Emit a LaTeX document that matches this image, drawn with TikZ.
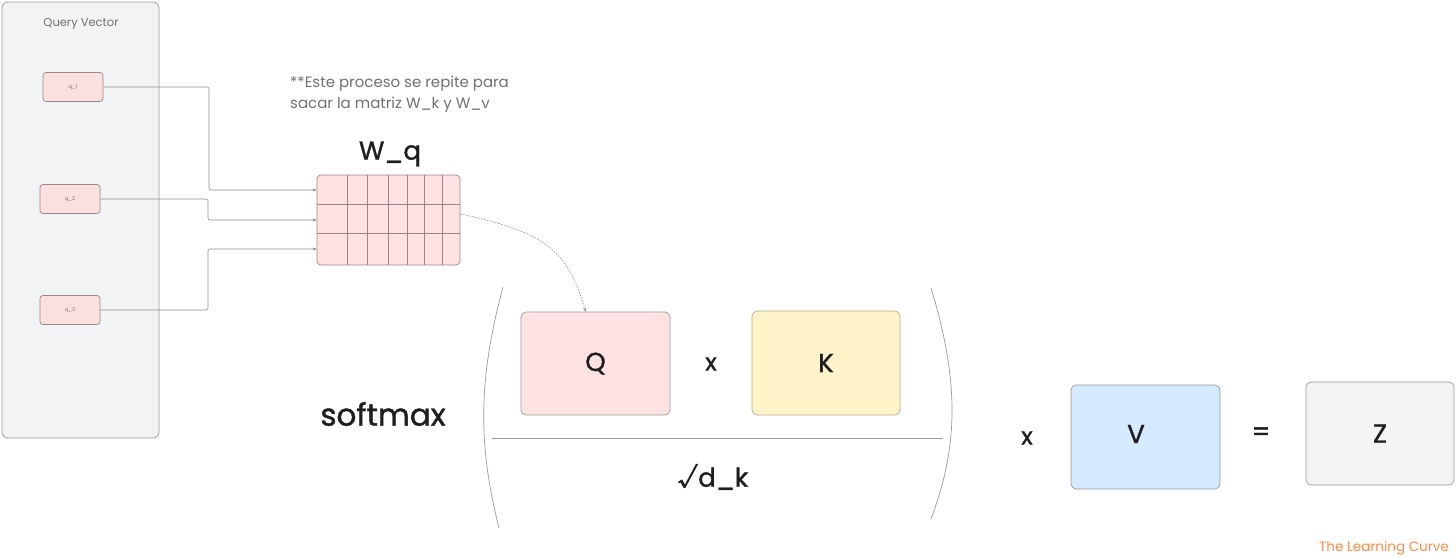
\documentclass[tikz,border=0pt]{standalone}
\usepackage{fontspec}
\setmainfont{Poppins}
\newfontfamily\handfont[FakeBold=1.2]{Poppins}
\usetikzlibrary{arrows.meta,calc}
\definecolor{ink}{HTML}{1E1E1E}
\definecolor{panelfill}{HTML}{F1F3F5}
\definecolor{panelline}{HTML}{9A9A9A}
\definecolor{qfill}{HTML}{FBE0E0}
\definecolor{qline}{HTML}{9C8585}
\definecolor{pinkfill}{HTML}{FFE3E3}
\definecolor{yelfill}{HTML}{FFF3C9}
\definecolor{yelline}{HTML}{B5AC8C}
\definecolor{bluefill}{HTML}{D3EAFF}
\definecolor{note}{HTML}{707070}
\definecolor{brand}{HTML}{FF8C4A}
\definecolor{conncol}{HTML}{8A8A8A}
\tikzset{
  box/.style={draw=panelline, line width=0.7pt, rounded corners=5pt, inner sep=0pt},
  qbox/.style={draw=qline, fill=qfill, line width=0.7pt, rounded corners=3pt, minimum width=60pt, minimum height=29pt, inner sep=0pt, font=\fontsize{5}{6}\selectfont, text=note},
  conn/.style={draw=conncol, line width=0.6pt, rounded corners=2pt, -{Stealth[length=4pt,width=3pt]}},
  lbl/.style={text=ink, inner sep=0pt},
  big/.style={lbl, font=\handfont\fontsize{26}{30}\selectfont},
}
\begin{document}
\begin{tikzpicture}[x=1pt,y=-1pt]
\useasboundingbox (0,0) rectangle (1456,557);
% panel
\node[box, fill=panelfill, minimum width=157pt, minimum height=436pt, rounded corners=6pt] (panel) at (80.5,220) {};
\node[lbl, text=note, font=\fontsize{11.5}{13}\selectfont] (qvlabel) at (81,24) {Query Vector};
% q boxes
\node[qbox] (q1) at (73,87) {q\_1};
\node[qbox] (q2) at (70,199) {q\_2};
\node[qbox] (q3) at (70,310) {q\_3};
% matrix
\node[draw=qline, fill=pinkfill, line width=0.7pt, rounded corners=4pt, minimum width=143pt, minimum height=90pt, inner sep=0pt] (W) at (388.5,220) {};
\foreach \xx in {347,367,388,407,424,442} {
  \draw[qline, line width=0.6pt] (\xx,175) -- (\xx,265);
}
\draw[qline, line width=0.6pt] (317,204) -- (460,204);
\draw[qline, line width=0.6pt] (317,233) -- (460,233);
\node[big] (Wlabel) at (390,154) {W\_q};
% note
\node[lbl, text=note, font=\fontsize{15}{21}\selectfont, align=left, anchor=north west] (note) at (290,76) {**Este proceso se repite para\\sacar la matriz W\_k y W\_v};
% connectors
\draw[conn] (q1.east) -| (209,190) -- ([yshift=30pt]W.west);
\draw[conn] (q2.east) -| (208,220) -- (W.west);
\draw[conn] (q3.east) -| (208,249) -- ([yshift=-29pt]W.west);
% Q, K
\node[box, fill=pinkfill, minimum width=149pt, minimum height=103pt] (Q) at (595.5,363.5) {};
\node[big] at (Q) {Q};
\node[box, draw=yelline, fill=yelfill, minimum width=148pt, minimum height=104pt] (K) at (826,363) {};
\node[big] at (K) {K};
\node[big, font=\handfont\fontsize{24}{28}\selectfont] (times1) at (711,364) {x};
% dotted arrow
\draw[conncol, line width=0.6pt, dash pattern=on 1.5pt off 1.5pt, -{Stealth[length=4pt,width=3pt]}] (W.east |- 460,214) .. controls (545,232) and (568,250) .. ([xshift=-10pt]Q.north);
% parens and fraction
\draw[panelline, line width=0.7pt] (503,287) .. controls (478,380) and (478,445) .. (499,528);
\draw[panelline, line width=0.7pt] (931,288) .. controls (959,380) and (959,445) .. (931,519);
\draw[panelline, line width=0.7pt] (492,438) -- (943,438);
\node[big] (dk) at (713,477) {\symbol{"221A}d\_k};
\node[big, font=\handfont\fontsize{31}{34}\selectfont] (softmax) at (383,414) {softmax};
% V, Z
\node[big, font=\handfont\fontsize{24}{28}\selectfont] (times2) at (1027,438) {x};
\node[box, fill=bluefill, minimum width=149pt, minimum height=104pt] (V) at (1145.5,437) {};
\node[big] at (1136,434) {V};
\node[big] (eq) at (1261,434) {=};
\node[box, fill=panelfill, minimum width=148pt, minimum height=103pt] (Z) at (1380,433.5) {};
\node[big] at (Z) {Z};
% brand
\node[lbl, text=brand, font=\fontsize{13.5}{15}\selectfont] (brand) at (1384,548) {The Learning Curve};
\end{tikzpicture}
\end{document}
